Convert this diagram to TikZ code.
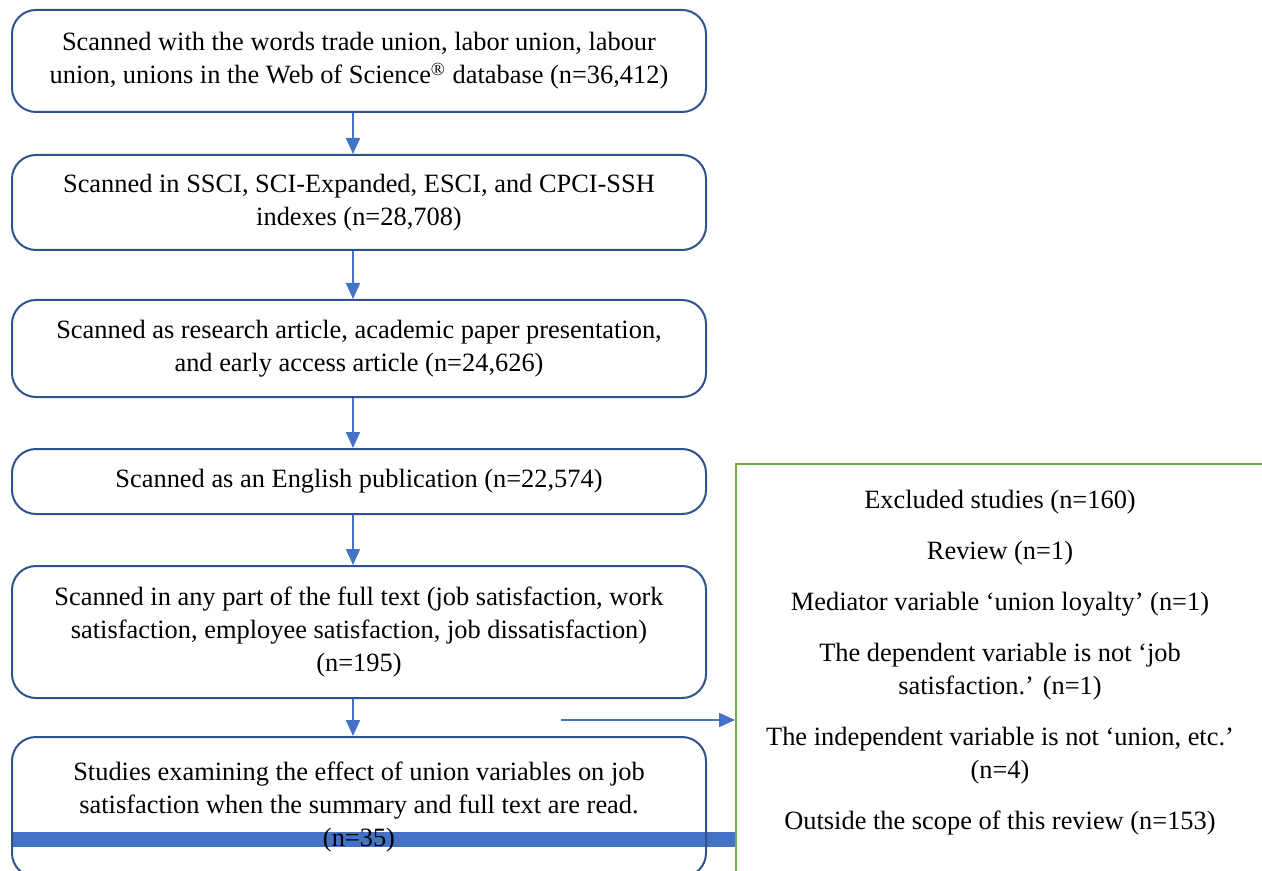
\documentclass[tikz,border=0pt]{standalone}
\usepackage{fontspec}
\setmainfont{Liberation Serif}
\usepackage{tikz}
\usetikzlibrary{arrows.meta}
\usetikzlibrary{positioning}

\definecolor{boxblue}{HTML}{2F528F}
\definecolor{arrblue}{HTML}{4472C4}
\definecolor{exgreen}{HTML}{70AD47}

\tikzset{
	stepbox/.style={draw=boxblue, line width=1pt, rounded corners=12pt, align=center,
		minimum width=347pt, font=\fontsize{13.2pt}{16.5pt}\selectfont},
	arr/.style={draw=arrblue, line width=1pt, -{Triangle[width=7pt,length=8pt]}},
	exbox/.style={draw=exgreen, line width=1pt, minimum width=264pt, minimum height=230pt},
}

\begin{document}
\begin{tikzpicture}[x=0.5pt, y=-0.5pt]
	\clip (0,0) rectangle (1262,871);
	\node[stepbox, minimum height=51pt] (box1) at (359,61) {Scanned with the words trade union, labor union, labour\\union, unions in the Web of Science\textsuperscript{®} database (n=36,412)};
	\node[stepbox, minimum height=47.5pt] (box2) at (359,202.5) {Scanned in SSCI, SCI-Expanded, ESCI, and CPCI-SSH\\indexes (n=28,708)};
	\node[stepbox, minimum height=48.5pt] (box3) at (359,348.5) {Scanned as research article, academic paper presentation,\\and early access article (n=24,626)};
	\node[stepbox, minimum height=32.5pt] (box4) at (359,481.5) {Scanned as an English publication (n=22,574)};
	\node[stepbox, minimum height=66pt] (box5) at (359,632) {Scanned in any part of the full text (job satisfaction, work\\satisfaction, employee satisfaction, job dissatisfaction)\\(n=195)};
	% excluded studies
	\node[exbox, anchor=north west] (excl) at (735,463) {};
	\node[below=10pt of excl.north, align=center, font=\fontsize{13.2pt}{16.5pt}\selectfont] (exText) {Excluded studies (n=160)\\[9pt]
		Review (n=1)\\[9pt]
		Mediator variable ‘union loyalty’ (n=1)\\[9pt]
		The dependent variable is not ‘job\\satisfaction.’ (n=1)\\[9pt]
		The independent variable is not ‘union, etc.’\\(n=4)\\[9pt]
		Outside the scope of this review (n=153)};
	\coordinate (exStart) at (561,720);
	\draw[arr] (exStart) -- (exStart -| excl.west);
	% bar under the last box
	\coordinate (barL) at (12,839);
	\draw[arrblue, line width=7.5pt] (barL) -- (barL -| excl.west);
	\node[stepbox, minimum height=70pt] (box6) at (359,807) {Studies examining the effect of union variables on job\\satisfaction when the summary and full text are read.\\(n=35)};
	\foreach \a/\b in {box1/box2, box2/box3, box3/box4, box4/box5, box5/box6}
		\draw[arr] ([xshift=-3pt]\a.south) -- ([xshift=-3pt]\b.north);
\end{tikzpicture}
\end{document}
